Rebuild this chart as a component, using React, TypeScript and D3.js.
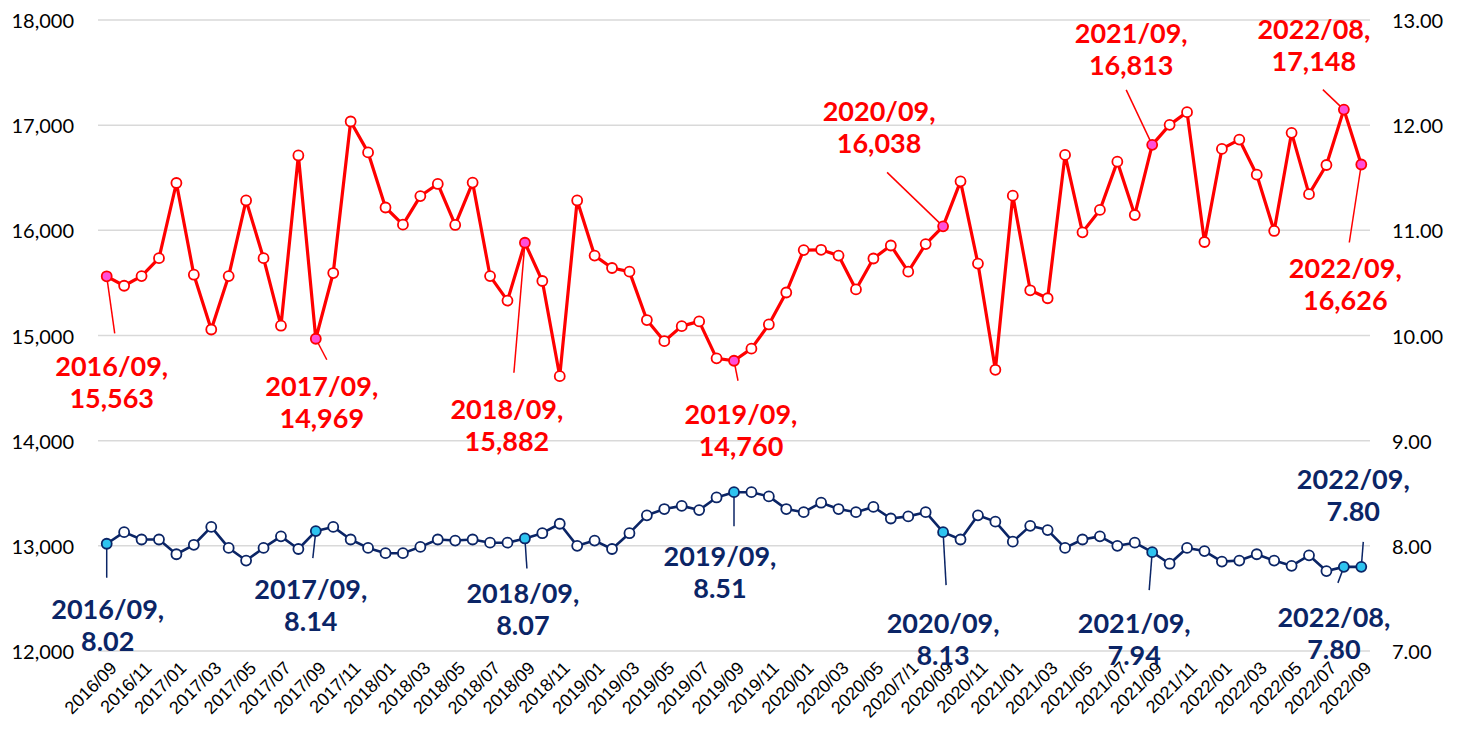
import React from "react";
import * as d3 from "d3";

const months: string[] = (() => {
  const out: string[] = [];
  let y = 2016, m = 9;
  while (y < 2022 || (y === 2022 && m <= 9)) {
    out.push(`${y}/${String(m).padStart(2, "0")}`);
    m++;
    if (m > 12) { m = 1; y++; }
  }
  return out;
})();

const tickLabels: string[] = months.map((d, i) => (i % 2 === 0 ? (d === "2020/07" ? "2020/7/1" : d) : ""));

const redValues: number[] = [
  15563, 15473, 15565, 15735,
  16450, 15578, 15057, 15565, 16284, 15735, 15093, 16712, 14969, 15594, 17035, 16741,
  16217, 16054, 16326, 16441, 16051, 16454, 15565, 15332, 15882, 15518, 14613, 16284,
  15760, 15642, 15607, 15147, 14946, 15089, 15134, 14783, 14760, 14875, 15105, 15409,
  15812, 15815, 15760, 15438, 15732, 15856, 15607, 15869, 16038, 16466, 15684, 14674,
  16330, 15430, 15354, 16717, 15981, 16194, 16653, 16146, 16813, 17003, 17124, 15889,
  16774, 16863, 16529, 15994, 16927, 16344, 16621, 17148, 16626,
];

const blueValues: number[] = [
  8.02, 8.13, 8.06, 8.06,
  7.92, 8.01, 8.18, 7.98, 7.86, 7.98, 8.09, 7.97, 8.14, 8.18, 8.06, 7.98,
  7.93, 7.93, 7.99, 8.06, 8.05, 8.06, 8.03, 8.03, 8.07, 8.12, 8.21, 8.0,
  8.05, 7.97, 8.12, 8.29, 8.35, 8.38, 8.34, 8.46, 8.51, 8.51, 8.47, 8.35,
  8.32, 8.41, 8.35, 8.32, 8.37, 8.26, 8.28, 8.32, 8.13, 8.06, 8.29, 8.23,
  8.04, 8.19, 8.15, 7.98, 8.06, 8.09, 8.0, 8.03, 7.94, 7.83, 7.98, 7.95,
  7.85, 7.86, 7.92, 7.86, 7.81, 7.91, 7.76, 7.8, 7.8,
];

const leftTicks: number[] = [12000, 13000, 14000, 15000, 16000, 17000, 18000];
const rightTicks: number[] = [7, 8, 9, 10, 11, 12, 13];

// highlighted points: [index, label value text]
const redHighlights: [number, string][] = [
  [0, "15,563"], [12, "14,969"], [24, "15,882"], [36, "14,760"],
  [48, "16,038"], [60, "16,813"], [71, "17,148"], [72, "16,626"],
];
const blueHighlights: [number, string][] = [
  [0, "8.02"], [12, "8.14"], [24, "8.07"], [36, "8.51"],
  [48, "8.13"], [60, "7.94"], [71, "7.80"], [72, "7.80"],
];

// layout offsets relative to the point: leader end (lx, ly), label center (tx, ty of first line)
const redLayout: number[][] = [
  [8, 57, 5, 89], [11, 21, 6, 46], [-11, 130, -18, 165], [4, 20, 7, 52],
  [-56, -54, -64, -116], [-26, -55, -21, -113], [-21, -20, -30, -82], [-12, 78, -16, 103],
];
const blueLayout: number[][] = [
  [0, 34, 1, 64], [-3, 27, -5, 57], [2, 30, -2, 54], [0, 34, -14, 63],
  [3, 53, 0, 90], [-3, 38, -18, 70], [-6, 16, -10, 49], [2, -25, -8, -89],
];

const W = 1465, H = 736;
const RED = "#FF0000";
const NAVY = "#0B2566";

export default function App() {
  const x = d3.scaleBand<number>().domain(months.map((_, i) => i)).range([98, 1370]);
  const cx = (i: number) => (x(i) as number) + x.bandwidth() / 2;
  const yL = d3.scaleLinear().domain([12000, 18000]).range([651, 20]);
  const yR = d3.scaleLinear().domain([7, 13]).range([651, 20]);

  const redLine = d3.line<number>().x((_, i) => cx(i)).y((d) => yL(d));
  const blueLine = d3.line<number>().x((_, i) => cx(i)).y((d) => yR(d));
  const fmtL = d3.format(",");
  const fmtR = d3.format(".2f");

  const lineH = 32;

  return (
    <svg width={W} height={H} style={{ position: "absolute", left: 0, top: 0, background: "#fff" }}>
      {leftTicks.map((t) => (
        <line key={"g" + t} x1={98} x2={1370} y1={yL(t)} y2={yL(t)} stroke="#D9D9D9" strokeWidth={1.5} />
      ))}
      {leftTicks.map((t) => (
        <text key={"l" + t} x={74} y={yL(t)} textAnchor="end" dominantBaseline="central"
          fontFamily="Lato, 'Liberation Sans', sans-serif" fontSize={20} fill="#000">{fmtL(t)}</text>
      ))}
      {rightTicks.map((t) => (
        <text key={"r" + t} x={1392} y={yR(t)} textAnchor="start" dominantBaseline="central"
          fontFamily="Lato, 'Liberation Sans', sans-serif" fontSize={20} fill="#000">{fmtR(t)}</text>
      ))}
      {tickLabels.map((t, i) => t ? (
        <text key={"x" + i} transform={`translate(${cx(i) + 7},${665}) rotate(-45)`} textAnchor="end"
          dominantBaseline="central" fontFamily="'Liberation Sans', Arial, sans-serif" fontSize={18} fill="#000">{t}</text>
      ) : null)}

      {/* leaders */}
      {redHighlights.map(([i], k) => {
        const px = cx(i), py = yL(redValues[i]);
        const [lx, ly] = redLayout[k];
        return <line key={"rl" + k} x1={px} y1={py} x2={px + lx} y2={py + ly} stroke={RED} strokeWidth={1.5} />;
      })}
      {blueHighlights.map(([i], k) => {
        const px = cx(i), py = yR(blueValues[i]);
        const [lx, ly] = blueLayout[k];
        return <line key={"bl" + k} x1={px} y1={py} x2={px + lx} y2={py + ly} stroke={NAVY} strokeWidth={1.5} />;
      })}

      <path d={redLine(redValues) || ""} fill="none" stroke={RED} strokeWidth={3.2} strokeLinejoin="round" />
      <path d={blueLine(blueValues) || ""} fill="none" stroke={NAVY} strokeWidth={2.6} strokeLinejoin="round" />

      {redValues.map((v, i) => {
        const hl = redHighlights.some(([j]) => j === i);
        return <circle key={"rc" + i} cx={cx(i)} cy={yL(v)} r={5} fill={hl ? "#FF4FD8" : "#fff"} stroke={RED} strokeWidth={1.8} />;
      })}
      {blueValues.map((v, i) => {
        const hl = blueHighlights.some(([j]) => j === i);
        return <circle key={"bc" + i} cx={cx(i)} cy={yR(v)} r={5} fill={hl ? "#2EC4F0" : "#fff"} stroke={NAVY} strokeWidth={1.8} />;
      })}

      {redHighlights.map(([i, lab], k) => {
        const px = cx(i), py = yL(redValues[i]);
        const [, , tx, ty] = redLayout[k];
        return (
          <text key={"rt" + k} textAnchor="middle" dominantBaseline="central" fontFamily="Lato, 'Liberation Sans', sans-serif"
            fontWeight="bold" fontSize={27} fill={RED}>
            <tspan x={px + tx} y={py + ty}>{months[i] + ","}</tspan>
            <tspan x={px + tx} y={py + ty + lineH}>{lab}</tspan>
          </text>
        );
      })}
      {blueHighlights.map(([i, lab], k) => {
        const px = cx(i), py = yR(blueValues[i]);
        const [, , tx, ty] = blueLayout[k];
        return (
          <text key={"bt" + k} textAnchor="middle" dominantBaseline="central" fontFamily="Lato, 'Liberation Sans', sans-serif"
            fontWeight="bold" fontSize={27} fill={NAVY}>
            <tspan x={px + tx} y={py + ty}>{months[i] + ","}</tspan>
            <tspan x={px + tx} y={py + ty + lineH}>{lab}</tspan>
          </text>
        );
      })}
    </svg>
  );
}
